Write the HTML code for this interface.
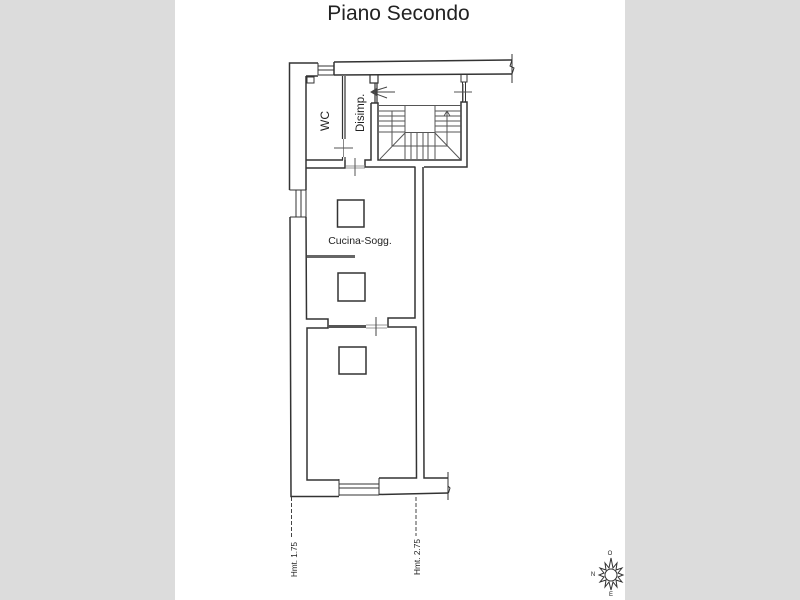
<!DOCTYPE html>
<html><head><meta charset="utf-8"><style>
html,body{margin:0;padding:0;background:#dcdcdc}
svg{display:block}
text{font-family:"Liberation Sans",sans-serif;fill:#222}
</style></head><body>
<svg width="800" height="600" viewBox="0 0 800 600" xmlns="http://www.w3.org/2000/svg">
<rect width="800" height="600" fill="#dcdcdc"/>
<rect x="175" y="0" width="450" height="600" fill="#fff"/>
<text x="398.500" y="20" font-size="21" text-anchor="middle" fill="#333">Piano Secondo</text>
<g fill="none" stroke="#333" stroke-width="1.5">
<!-- outer top and left -->
<path d="M318 63H289.500V190M290 217L291 496.500H339M379 494.500L448 493"/>
<path d="M334 62L512 60M334 62V75M334 75L512 74"/>
<path d="M512 54V83M512 60L510 66L514 68L512 74" stroke-width="1"/>
<path d="M318 63V75M334 63V75M318 66H334M318 70H334M318 75H334" stroke-width="1"/>
<path d="M306 76H318M306 76V190M306 160H343M306 168H345V160"/>
<rect x="307" y="77" width="7" height="6" stroke-width="1"/>
<!-- left window -->
<path d="M289.500 190H306V217H290M296 190V217M301 190V217" stroke-width="1"/>
<path d="M306 217L306.500 319H328V328H307L307 480H339"/>
<path d="M342.500 76V139M345 76V139M342.500 157V160M345 157V160" stroke-width="1.2"/>
<path d="M343.500 139V157" stroke="#888" stroke-width="1"/>
<!-- pillar disimp -->
<path d="M370 75V83H378V75M375 83V103M377 83V103" stroke-width="1.2"/>
<path d="M371 103H378V160H461V102H467V167H424M371 103V160H365V167H415.500"/>
<path d="M415 167V318H388V327H416L416.500 478H379M423 167L424 478H448"/>
<path d="M448 472V500M448 478V486L450 488L448.500 493" stroke-width="1"/>
<!-- bottom window -->
<path d="M339 479V496M379 478V495M339 484H379M339 488H379M339 495H379" stroke-width="1"/>
<!-- pillars / top right -->
<path d="M461 75V82H467V75M462.500 82V102M465.500 82V102" stroke-width="1"/>
<!-- pillars -->
<rect x="337.500" y="200" width="26.500" height="27"/>
<rect x="338" y="273" width="27" height="28"/>
<rect x="339" y="347" width="27" height="27"/>
</g>
<!-- partition wall -->
<rect x="307" y="255" width="48" height="3" fill="#666"/>
<rect x="328" y="325" width="38" height="3" fill="#555"/>
<path d="M366 325H387M366 328H387" stroke="#999" stroke-width="1" fill="none"/>
<path d="M376 317V336" stroke="#444" stroke-width="1" fill="none"/>
<path d="M346 166H365M346 168H365" stroke="#999" stroke-width="1" fill="none"/>
<!-- door marks -->
<path d="M334 148H353M355 158V176M454 92H472M463 84V101" stroke="#555" stroke-width="1" fill="none"/>
<path d="M371 92L387 87M371 92H395M371 92L387 98M371 92L376 89V95Z" stroke="#444" stroke-width="1" fill="none"/>
<!-- stairs -->
<g fill="none" stroke="#555" stroke-width="1">
<rect x="405" y="105.500" width="30" height="27"/>
<path d="M379 105.500H405M379 111H405M379 116H405M379 121H405M379 126H405M379 132H405"/>
<path d="M435 105.500H461M435 111H461M435 116H461M435 121H461M435 126H461M435 132H461"/>
<path d="M405 133V159M435 133V159M411 133V159M417 133V159M423 133V159M428 133V159"/>
<path d="M380 159L405 133M460 159L435 133"/>
<path d="M392 146H448"/>
<path d="M392 111V146M447 111V146M447 111L444 116M447 111L450 116"/>
</g>
<text font-size="12" transform="translate(329,131) rotate(-90)">WC</text>
<text font-size="11.500" transform="translate(364,132) rotate(-90)">Disimp.</text>
<text x="360" y="244" font-size="10.500" text-anchor="middle">Cucina-Sogg.</text>
<!-- dashed -->
<path d="M291.500 497V537M416 497V536" stroke="#444" stroke-width="1" stroke-dasharray="4 2" fill="none"/>
<text font-size="8" transform="translate(297,577) rotate(-90)" textLength="35" lengthAdjust="spacingAndGlyphs">Hmt. 1.75</text>
<text font-size="8" transform="translate(420,575) rotate(-90)" textLength="36" lengthAdjust="spacingAndGlyphs">Hmt. 2.75</text>
<!-- compass -->
<g stroke="#333" stroke-width="1" fill="none">
<circle cx="611" cy="575" r="6"/>
<path d="M611 558L613 568L617 563L616 570L622 568L618 573L623 575L618 577L622 582L616 580L617 587L613 582L611 590L609 582L605 587L606 580L600 582L604 577L599 575L604 573L600 568L606 570L605 563L609 568Z"/>
</g>
<text x="610" y="555" font-size="6" text-anchor="middle">O</text>
<text x="593" y="576" font-size="6" text-anchor="middle">N</text>
<text x="611" y="596" font-size="6" text-anchor="middle">E</text>
</svg>
</body></html>
